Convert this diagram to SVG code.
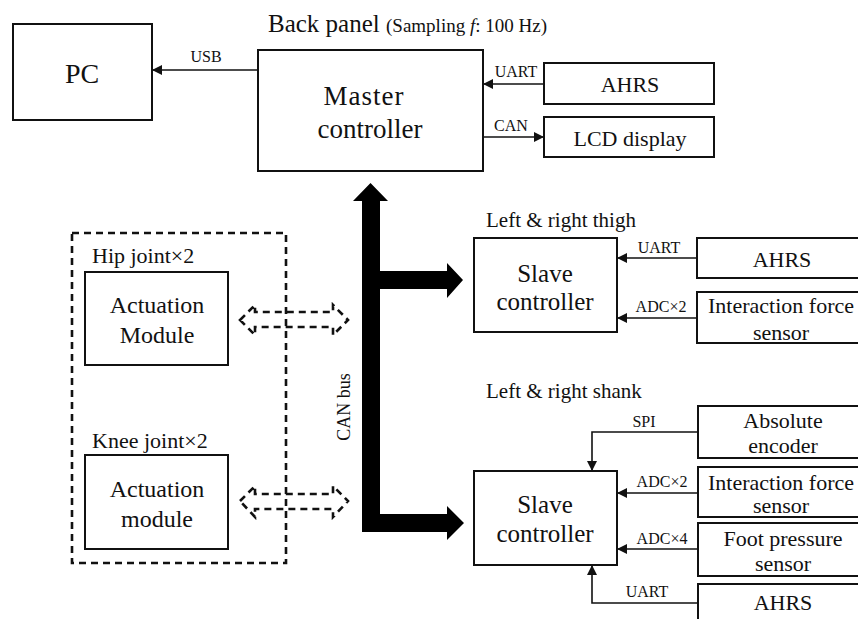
<svg xmlns="http://www.w3.org/2000/svg" width="858" height="619" viewBox="0 0 858 619">
  <style>
    text { font-family: "Liberation Serif", "Times New Roman", serif; fill: #111; }
    .box { fill: #fff; stroke: #111; stroke-width: 2; }
    .wire { fill: none; stroke: #111; stroke-width: 1.6; }
    .dash { fill: none; stroke: #111; stroke-width: 2.6; stroke-dasharray: 7 5; }
    .mid { text-anchor: middle; }
    .lbl { font-size: 16px; }
    .grp { font-size: 21px; }
    .sen { font-size: 22px; }
  </style>
  <defs>
    <marker id="tip" viewBox="0 0 10 10" refX="10" refY="5" markerWidth="10" markerHeight="10" markerUnits="userSpaceOnUse" orient="auto">
      <path d="M0,0 L10,5 L0,10 Z" fill="#111"/>
    </marker>
  </defs>

  <!-- headings -->
  <text x="268" y="32" font-size="25">Back panel <tspan font-size="19">(Sampling <tspan font-style="italic">f</tspan>: 100 Hz)</tspan></text>
  <text class="grp" x="486" y="227">Left &amp; right thigh</text>
  <text class="grp" x="486" y="398">Left &amp; right shank</text>

  <!-- connectors -->
  <g id="connectors">
    <path class="wire" d="M258,70 H152" marker-end="url(#tip)"/>
    <path class="wire" d="M544,84 H483" marker-end="url(#tip)"/>
    <path class="wire" d="M483,137 H544" marker-end="url(#tip)"/>
    <path class="wire" d="M697,258 H617" marker-end="url(#tip)"/>
    <path class="wire" d="M697,318 H617" marker-end="url(#tip)"/>
    <path class="wire" d="M698,432 H592 V471" marker-end="url(#tip)"/>
    <path class="wire" d="M698,493 H617" marker-end="url(#tip)"/>
    <path class="wire" d="M698,549 H617" marker-end="url(#tip)"/>
    <path class="wire" d="M698,603 H592 V565" marker-end="url(#tip)"/>

    <!-- CAN bus trunk with branches -->
    <path fill="#000" d="M370.5,183 L388,201 L380,201 L380,271 L447,271 L447,263 L463,280 L447,298 L447,289 L380,289 L380,514 L447,514 L447,506 L464,523 L447,540 L447,532 L362,532 L362,201 L353,201 Z"/>
    <text x="350" y="407" font-size="18" class="mid" transform="rotate(-90 350 407)">CAN bus</text>

    <!-- links to actuation modules -->
    <path class="dash" d="M240,320 L255,305 L255,312 L333,312 L333,305 L348,320 L333,335 L333,327 L255,327 L255,335 Z"/>
    <path class="dash" d="M240,501 L255,486 L255,494 L333,494 L333,486 L348,501 L333,517 L333,509 L255,509 L255,517 Z"/>

    <text class="lbl mid" x="206" y="62">USB</text>
    <text class="lbl mid" x="516" y="77">UART</text>
    <text class="lbl mid" x="511" y="131">CAN</text>
    <text class="lbl mid" x="659" y="253">UART</text>
    <text class="lbl mid" x="661" y="312">ADC×2</text>
    <text class="lbl mid" x="644" y="427">SPI</text>
    <text class="lbl mid" x="662" y="487">ADC×2</text>
    <text class="lbl mid" x="662" y="544">ADC×4</text>
    <text class="lbl mid" x="647" y="597">UART</text>
  </g>

  <g id="pc">
    <rect class="box" x="13" y="24" width="139" height="96"/>
    <text class="mid" x="82" y="83" font-size="28">PC</text>
  </g>

  <g id="master">
    <rect class="box" x="258" y="50" width="225" height="121"/>
    <text class="mid" x="364" y="105" font-size="27" letter-spacing="1">Master</text>
    <text class="mid" x="370" y="138" font-size="27">controller</text>
  </g>

  <g id="ahrs-back">
    <rect class="box" x="544" y="63" width="170" height="41"/>
    <text class="mid sen" x="630" y="92">AHRS</text>
  </g>

  <g id="lcd">
    <rect class="box" x="544" y="117" width="170" height="40"/>
    <text class="mid sen" x="630" y="146">LCD display</text>
  </g>

  <g id="actuators">
    <rect class="dash" x="72" y="233" width="214" height="330" stroke-width="2"/>
    <text x="92" y="263" font-size="22">Hip joint×2</text>
    <text x="92" y="448" font-size="22">Knee joint×2</text>
  </g>

  <g id="hip-module">
    <rect class="box" x="85" y="272" width="143" height="93"/>
    <text class="mid" x="157" y="313" font-size="24">Actuation</text>
    <text class="mid" x="157" y="343" font-size="24">Module</text>
  </g>

  <g id="knee-module">
    <rect class="box" x="85" y="455" width="143" height="94"/>
    <text class="mid" x="157" y="497" font-size="24">Actuation</text>
    <text class="mid" x="157" y="527" font-size="24">module</text>
  </g>

  <g id="thigh-slave">
    <rect class="box" x="474" y="238" width="143" height="94"/>
    <text class="mid" x="545" y="282" font-size="25">Slave</text>
    <text class="mid" x="545" y="310" font-size="25">controller</text>
  </g>

  <g id="thigh-ahrs">
    <rect class="box" x="697" y="238" width="170" height="40"/>
    <text class="mid sen" x="782" y="267">AHRS</text>
  </g>

  <g id="thigh-force">
    <rect class="box" x="697" y="292" width="170" height="51"/>
    <text class="mid sen" x="781" y="313">Interaction force</text>
    <text class="mid sen" x="781" y="340">sensor</text>
  </g>

  <g id="shank-slave">
    <rect class="box" x="474" y="471" width="143" height="94"/>
    <text class="mid" x="545" y="513" font-size="25">Slave</text>
    <text class="mid" x="545" y="542" font-size="25">controller</text>
  </g>

  <g id="shank-encoder">
    <rect class="box" x="698" y="406" width="170" height="52"/>
    <text class="mid sen" x="783" y="428">Absolute</text>
    <text class="mid sen" x="783" y="453">encoder</text>
  </g>

  <g id="shank-force">
    <rect class="box" x="698" y="467" width="170" height="50"/>
    <text class="mid sen" x="781" y="490">Interaction force</text>
    <text class="mid sen" x="781" y="513">sensor</text>
  </g>

  <g id="shank-foot">
    <rect class="box" x="698" y="523" width="170" height="53"/>
    <text class="mid sen" x="783" y="546">Foot pressure</text>
    <text class="mid sen" x="783" y="571">sensor</text>
  </g>

  <g id="shank-ahrs">
    <rect class="box" x="698" y="584" width="170" height="50"/>
    <text class="mid sen" x="783" y="610">AHRS</text>
  </g>
</svg>
